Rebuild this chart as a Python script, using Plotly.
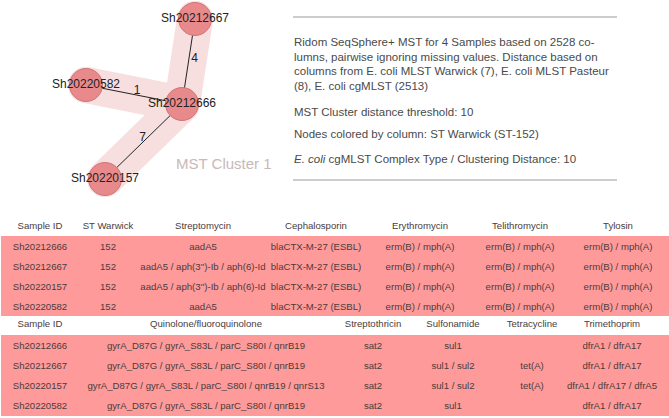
import plotly.graph_objects as go

# ---------------- data ----------------
node_names = ["Sh20212667", "Sh20220582", "Sh20212666", "Sh20220157"]
edge_from = ["Sh20212666", "Sh20212666", "Sh20212666"]
edge_to = ["Sh20212667", "Sh20220582", "Sh20220157"]
edge_dist = [4, 1, 7]
cluster_label = "MST Cluster 1"

info_lines = [
    "Ridom SeqSphere+ MST for 4 Samples based on 2528 co-",
    "lumns, pairwise ignoring missing values. Distance based on",
    "columns from E. coli MLST Warwick (7), E. coli MLST Pasteur",
    "(8), E. coli cgMLST (2513)",
    "MST Cluster distance threshold: 10",
    "Nodes colored by column: ST Warwick (ST-152)",
    "<i>E. coli</i> cgMLST Complex Type / Clustering Distance: 10",
]

samples = ["Sh20212666", "Sh20212667", "Sh20220157", "Sh20220582"]
st_warwick = ["152", "152", "152", "152"]
streptomycin = ["aadA5", "aadA5 / aph(3'')-Ib / aph(6)-Id",
                "aadA5 / aph(3'')-Ib / aph(6)-Id", "aadA5"]
cephalosporin = ["blaCTX-M-27 (ESBL)"] * 4
erythromycin = ["erm(B) / mph(A)"] * 4
telithromycin = ["erm(B) / mph(A)"] * 4
tylosin = ["erm(B) / mph(A)"] * 4
quinolone = ["gyrA_D87G / gyrA_S83L / parC_S80I / qnrB19",
             "gyrA_D87G / gyrA_S83L / parC_S80I / qnrB19",
             "gyrA_D87G / gyrA_S83L / parC_S80I / qnrB19 / qnrS13",
             "gyrA_D87G / gyrA_S83L / parC_S80I / qnrB19"]
streptothricin = ["sat2"] * 4
sulfonamide = ["sul1", "sul1 / sul2", "sul1 / sul2", "sul1"]
tetracycline = ["", "tet(A)", "tet(A)", ""]
trimethoprim = ["dfrA1 / dfrA17", "dfrA1 / dfrA17",
                "dfrA1 / dfrA17 / dfrA5", "dfrA1 / dfrA17"]

table1_headers = ["Sample ID", "ST Warwick", "Streptomycin", "Cephalosporin",
                  "Erythromycin", "Telithromycin", "Tylosin"]
table1_cols = [samples, st_warwick, streptomycin, cephalosporin,
               erythromycin, telithromycin, tylosin]
table2_headers = ["Sample ID", "Quinolone/fluoroquinolone", "Streptothricin",
                  "Sulfonamide", "Tetracycline", "Trimethoprim"]
table2_cols = [samples, quinolone, streptothricin, sulfonamide,
               tetracycline, trimethoprim]

# ---------------- layout (pixel space) ----------------
W, H = 669, 418
node_pos = {"Sh20212667": (195, 19), "Sh20220582": (86, 85),
            "Sh20212666": (182, 104), "Sh20220157": (105, 179)}
edge_label_offset = [(6, -3), (3, -4), (-1, -4)]

t1_x = [40, 108, 203, 316, 420, 520, 618]
t2_x = [40, 206, 373, 453, 532, 612]
t1_head_y, t1_row_y0 = 227, 247.5
t2_head_y, t2_row_y0 = 324.5, 346.5
row_step = 20.2
pink = "#ff9a9a"
tfont = "Liberation Sans, Arial, sans-serif"
tsize = 9.6
tcol = "#4a3c3c"

fig = go.Figure()

# cluster band
for a, b in zip(edge_from, edge_to):
    xa, ya = node_pos[a]
    xb, yb = node_pos[b]
    fig.add_trace(go.Scatter(x=[xa, xb], y=[ya, yb], mode="lines",
                             line=dict(color="#f7dfdf", width=36),
                             hoverinfo="skip", showlegend=False))
fig.add_trace(go.Scatter(x=[node_pos[n][0] for n in node_names],
                         y=[node_pos[n][1] for n in node_names], mode="markers",
                         marker=dict(size=36, color="#f7dfdf", line=dict(width=0)),
                         hoverinfo="skip", showlegend=False))
# edges
for a, b in zip(edge_from, edge_to):
    xa, ya = node_pos[a]
    xb, yb = node_pos[b]
    fig.add_trace(go.Scatter(x=[xa, xb], y=[ya, yb], mode="lines",
                             line=dict(color="#222222", width=1),
                             hoverinfo="skip", showlegend=False))
# edge labels
ex, ey = [], []
for (a, b), (ox, oy) in zip(zip(edge_from, edge_to), edge_label_offset):
    xa, ya = node_pos[a]
    xb, yb = node_pos[b]
    ex.append((xa + xb) / 2 + ox)
    ey.append((ya + yb) / 2 + oy)
fig.add_trace(go.Scatter(x=ex, y=ey, mode="text", text=[str(d) for d in edge_dist],
                         textfont=dict(family="Liberation Sans, Arial, sans-serif",
                                       size=12, color="#222222"),
                         hoverinfo="skip", showlegend=False))
# nodes
fig.add_trace(go.Scatter(x=[node_pos[n][0] for n in node_names],
                         y=[node_pos[n][1] for n in node_names],
                         mode="markers+text", text=node_names,
                         textposition="middle center",
                         marker=dict(size=33, color="#e88a8c",
                                     line=dict(color="#d27577", width=1)),
                         textfont=dict(family="Liberation Sans, Arial, sans-serif",
                                       size=12, color="#222222"),
                         hoverinfo="skip", showlegend=False))
fig.add_annotation(x=174, y=163, xanchor="left", yanchor="middle", showarrow=False,
                   text=cluster_label,
                   font=dict(family="Liberation Sans, Arial, sans-serif",
                             size=15, color="#c9b8b8"))

# info block
shapes = []
for yy in (17, 180):
    shapes.append(dict(type="line", x0=293, x1=617, y0=yy, y1=yy,
                       line=dict(color="#9a9a9a", width=1), layer="below"))
info_y = [42, 56.5, 71, 85.5, 112, 134, 159]
for line, yy in zip(info_lines, info_y):
    fig.add_annotation(x=292, y=yy, xanchor="left", yanchor="middle",
                       showarrow=False, text=line,
                       font=dict(family="Liberation Sans, Arial, sans-serif",
                                 size=11.5, color="#4a4a4a"))

# tables
shapes.append(dict(type="rect", x0=1, x1=W, y0=236, y1=316, fillcolor=pink,
                   line=dict(width=0), layer="below"))
shapes.append(dict(type="rect", x0=1, x1=W, y0=335, y1=416, fillcolor=pink,
                   line=dict(width=0), layer="below"))


def add_table(headers, cols, xs, head_y, row_y0):
    fig.add_trace(go.Scatter(x=xs, y=[head_y] * len(xs), mode="text", text=headers,
                             textfont=dict(family=tfont, size=tsize, color=tcol),
                             hoverinfo="skip", showlegend=False))
    for x, col in zip(xs, cols):
        ys = [row_y0 + i * row_step for i in range(len(col))]
        fig.add_trace(go.Scatter(x=[x] * len(col), y=ys, mode="text", text=col,
                                 textfont=dict(family=tfont, size=tsize, color=tcol),
                                 hoverinfo="skip", showlegend=False))


add_table(table1_headers, table1_cols, t1_x, t1_head_y, t1_row_y0)
add_table(table2_headers, table2_cols, t2_x, t2_head_y, t2_row_y0)

fig.update_layout(
    width=W, height=H, margin=dict(l=0, r=0, t=0, b=0),
    paper_bgcolor="white", plot_bgcolor="white", shapes=shapes,
    xaxis=dict(range=[0, W], visible=False, fixedrange=True),
    yaxis=dict(range=[H, 0], visible=False, fixedrange=True),
)
fig.write_html("out.html",
               config={"displayModeBar": False},
               post_script="document.body.style.margin='0';"
                           "document.body.style.overflow='hidden';")
